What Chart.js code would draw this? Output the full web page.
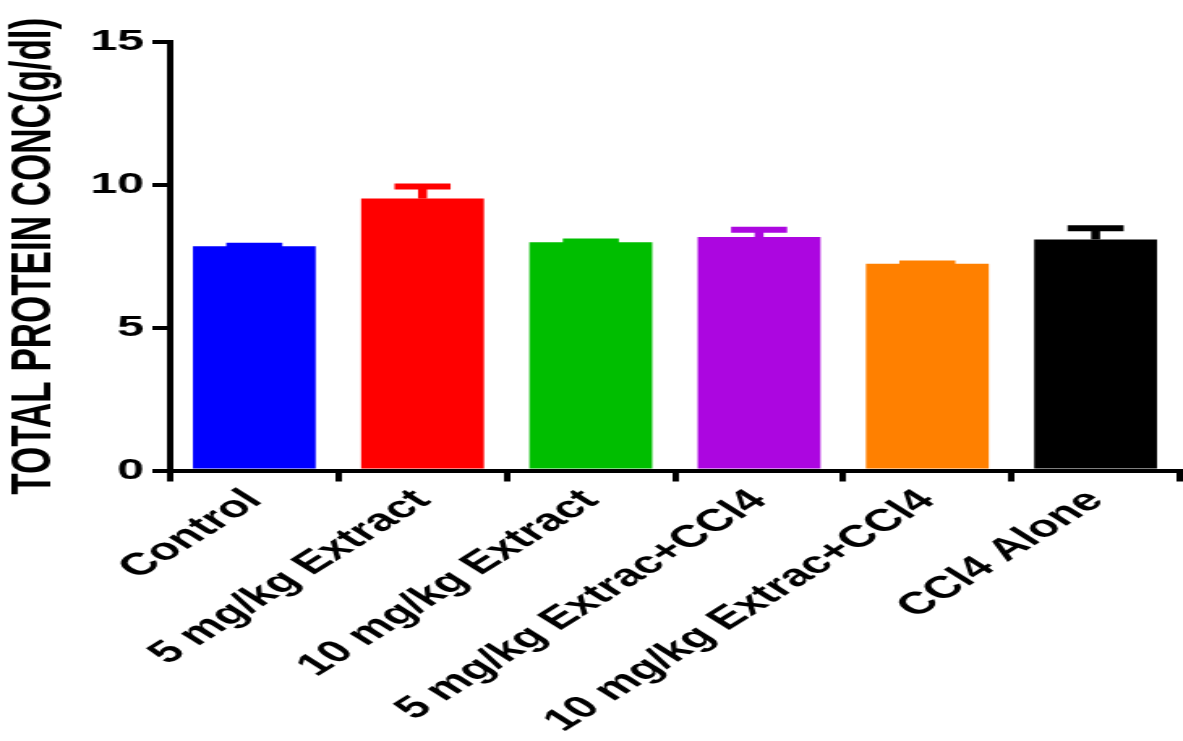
<!DOCTYPE html>
<html>
<head>
<meta charset="utf-8">
<script src="https://cdn.jsdelivr.net/npm/chart.js@4/dist/chart.umd.min.js"></script>
<style>
  html, body { margin: 0; padding: 0; background: #fff; overflow: hidden; }
  #wrap { width: 1183px; height: 741px; overflow: hidden; }
  #c { display: block; transform: scaleX(1.6205); transform-origin: 0 0; }
</style>
</head>
<body>
<div id="wrap"><canvas id="c" width="730" height="741"></canvas></div>
<script>
const categories = ["Control", "5 mg/kg Extract", "10 mg/kg Extract", "5 mg/kg Extrac+CCl4", "10 mg/kg Extrac+CCl4", "CCl4 Alone"];
const means = [7.85, 9.52, 7.99, 8.17, 7.24, 8.09];
const sems = [0.02, 0.42, 0.03, 0.26, 0.01, 0.39];
const barColors = ["#0000FF", "#FF0000", "#00BE00", "#AC06E0", "#FF8000", "#000000"];
const yTicks = [0, 5, 10, 15];
const yTitle = "TOTAL PROTEIN CONC(g/dl)";

const FONT = "'Liberation Sans', Arial, Helvetica, sans-serif";

const errorBars = {
  id: 'errorBars',
  afterDatasetsDraw(chart) {
    const ctx = chart.ctx;
    const meta = chart.getDatasetMeta(0);
    const ys = chart.scales.y;
    ctx.save();
    meta.data.forEach((bar, i) => {
      const yTop = ys.getPixelForValue(means[i]);
      const yErr = ys.getPixelForValue(means[i] + sems[i]);
      ctx.strokeStyle = barColors[i];
      ctx.lineCap = 'butt';
      ctx.lineWidth = 5.5;
      ctx.beginPath();
      ctx.moveTo(bar.x, yTop);
      ctx.lineTo(bar.x, yErr);
      ctx.stroke();
      ctx.lineWidth = 6;
      ctx.beginPath();
      ctx.moveTo(bar.x - 17.3, yErr);
      ctx.lineTo(bar.x + 17.3, yErr);
      ctx.stroke();
    });
    ctx.restore();
  }
};

new Chart(document.getElementById('c'), {
  type: 'bar',
  data: {
    labels: categories,
    datasets: [{
      data: means,
      backgroundColor: barColors,
      borderWidth: 0,
      barPercentage: 0.73,
      categoryPercentage: 1.0
    }]
  },
  options: {
    responsive: false,
    devicePixelRatio: 1,
    animation: false,
    layout: { padding: { top: 42, right: 2, left: 0, bottom: 0 } },
    plugins: { legend: { display: false }, tooltip: { enabled: false }, title: { display: false } },
    scales: {
      x: {
        grid: { display: true, drawOnChartArea: false, drawTicks: true, tickLength: 11, color: '#000', lineWidth: 4 },
        border: { display: true, color: '#000', width: 4 },
        ticks: {
          color: '#000',
          font: { family: FONT, size: 31, weight: 'bold' },
          maxRotation: 45, minRotation: 45, autoSkip: false, padding: 1
        },
        afterFit(scale) { scale.height = 270.5; }
      },
      y: {
        min: 0, max: 15,
        afterBuildTicks(scale) { scale.ticks = yTicks.map(v => ({ value: v })); },
        grid: { display: true, drawOnChartArea: false, drawTicks: true, tickLength: 11, color: '#000', lineWidth: 4 },
        border: { display: true, color: '#000', width: 4 },
        ticks: {
          color: '#000',
          font: { family: FONT, size: 30, weight: 'bold' },
          padding: 5
        },
        title: {
          display: true,
          text: yTitle,
          color: '#000',
          font: { family: FONT, size: 35, weight: 'bold', lineHeight: 1.2 },
          padding: 0
        },
        afterFit(scale) { scale.width = 105; }
      }
    }
  },
  plugins: [errorBars]
});
</script>
</body>
</html>
